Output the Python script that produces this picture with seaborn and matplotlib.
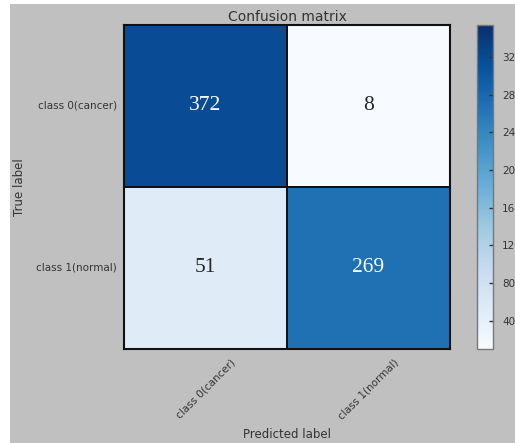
import matplotlib
matplotlib.use("Agg")
import matplotlib.pyplot as plt
from matplotlib.patches import Rectangle
import numpy as np
import seaborn as sns

# Confusion-matrix counts (rows: true class, columns: predicted class)
classes = ["class 0(cancer)", "class 1(normal)"]
row_cancer = [372, 8]
row_normal = [51, 269]
cbar_ticks = [40, 80, 120, 160, 200, 240, 280, 320]

counts = np.array([row_cancer, row_normal])

W, H = 515, 443
fig = plt.figure(figsize=(W / 100, H / 100), dpi=100, facecolor="white")
# grey window background
fig.add_artist(Rectangle((10 / W, 0), 1 - 10 / W, 1 - 4 / H,
                         transform=fig.transFigure, facecolor="#c0c0c0",
                         edgecolor="none", zorder=-10))

ax = fig.add_axes([124 / W, 1 - 349 / H, 326 / W, 324 / H])
cax = fig.add_axes([477 / W, 1 - 349 / H, 16 / W, 324 / H])

cmap = sns.color_palette("Blues", as_cmap=True).copy()
cmap.set_over("#0a4b96")

sns.heatmap(counts, ax=ax, cbar_ax=cax, cmap=cmap, vmin=10, vmax=354,
            annot=True, fmt="d",
            annot_kws={"fontsize": 15.5, "family": "Liberation Serif"},
            linewidths=1.2, linecolor="#111111",
            xticklabels=classes, yticklabels=classes,
            cbar_kws={"ticks": cbar_ticks})

for s in ax.spines.values():
    s.set_visible(True)
    s.set_linewidth(1.5)
    s.set_color("#111111")

text_color = "#333333"
ax.set_title("Confusion matrix", fontsize=10, color=text_color, pad=3)
ax.tick_params(axis="both", length=0, labelsize=7.5, labelcolor=text_color)
ax.tick_params(axis="y", pad=5)
ax.tick_params(axis="x", pad=6)
plt.setp(ax.get_yticklabels(), rotation=0)
plt.setp(ax.get_xticklabels(), rotation=45, ha="center")

ax.set_ylabel("True label", fontsize=8.5, color=text_color)
ax.set_xlabel("Predicted label", fontsize=8.5, color=text_color)
ax.yaxis.set_label_coords(-0.30, 0.5)
ax.xaxis.set_label_coords(0.5, -0.245)

cbar = ax.collections[0].colorbar
cbar.outline.set_edgecolor("#777777")
cbar.outline.set_linewidth(1.0)
cax.tick_params(direction="in", length=3, width=1, color="#333333",
                labelsize=7.5, labelcolor=text_color, pad=6.5)

fig.savefig("out.png", dpi=100, facecolor=fig.get_facecolor())
